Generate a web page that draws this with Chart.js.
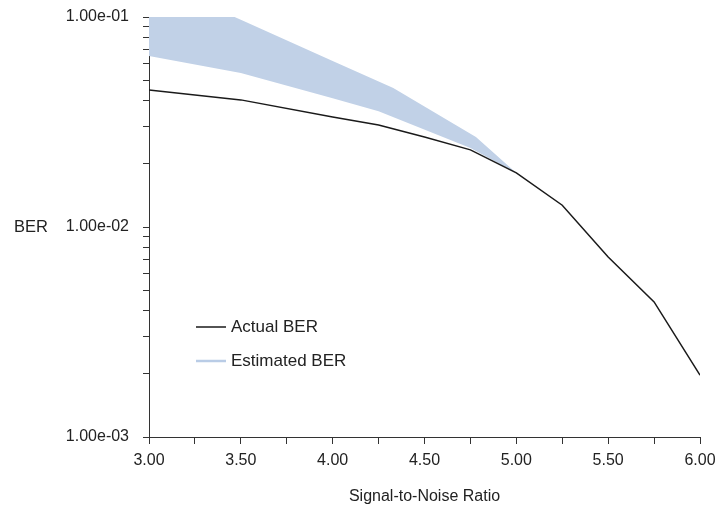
<!DOCTYPE html>
<html>
<head>
<meta charset="utf-8">
<script src="https://cdn.jsdelivr.net/npm/chart.js@4.4.1/dist/chart.umd.min.js"></script>
<style>
  html, body { margin: 0; padding: 0; background: #fff; }
  #wrap { width: 716px; height: 508px; }
</style>
</head>
<body>
<div id="wrap"><canvas id="chartBer" width="716" height="508"></canvas></div>
<script>
// --- Datos ---
const snrActual = [3.0, 3.5, 4.0, 4.25, 4.5, 4.75, 5.0, 5.25, 5.5, 5.75, 6.0];
const berActual = [0.0449, 0.0403, 0.0334, 0.0306, 0.0268, 0.0233, 0.0181, 0.0127, 0.0072, 0.0044, 0.00197];

const snrEstUpper = [3.0, 3.5, 4.0, 4.33, 4.78, 5.0];
const berEstUpper = [0.152, 0.097, 0.0617, 0.0459, 0.0268, 0.0181];

const snrEstLower = [3.0, 3.5, 4.0, 4.25, 4.75, 5.0];
const berEstLower = [0.0652, 0.0541, 0.0410, 0.0356, 0.0238, 0.0181];

const yTicks = [0.001, 0.002, 0.003, 0.004, 0.005, 0.006, 0.007, 0.008, 0.009,
                0.01, 0.02, 0.03, 0.04, 0.05, 0.06, 0.07, 0.08, 0.09, 0.1];

const legendLabels = ['Actual BER', 'Estimated BER'];

function toPoints(xs, ys) {
    return xs.map((x, i) => ({ x: x, y: ys[i] }));
}

function formatExp(v) {
    const exp = Math.round(Math.log10(v));
    const mant = (v / Math.pow(10, exp)).toFixed(2);
    const sign = exp < 0 ? '-' : '+';
    return mant + 'e' + sign + String(Math.abs(exp)).padStart(2, '0');
}

// --- Plugins ---
// etiqueta "BER" horizontal a la izquierda
const berLabel = {
    id: 'berLabel',
    afterDraw(chart) {
        const ctx = chart.ctx;
        ctx.save();
        ctx.font = '16.5px "Liberation Sans", Arial, sans-serif';
        ctx.fillStyle = '#222';
        ctx.textAlign = 'left';
        ctx.textBaseline = 'middle';
        ctx.fillText('BER', 14, chart.scales.y.getPixelForValue(0.01));
        ctx.restore();
    }
};

// leyenda dentro del área del gráfico
const insideLegend = {
    id: 'insideLegend',
    afterDatasetsDraw(chart) {
        const ctx = chart.ctx;
        const area = chart.chartArea;
        const colors = ['#1a1a1a', '#b9cce6'];
        const x0 = area.left + 47;
        ctx.save();
        ctx.font = '17px "Liberation Sans", Arial, sans-serif';
        ctx.textBaseline = 'middle';
        legendLabels.forEach((lbl, i) => {
            const y = area.top + 310 + i * 34;
            ctx.strokeStyle = colors[i];
            ctx.lineWidth = i === 0 ? 1.5 : 2.5;
            ctx.beginPath();
            ctx.moveTo(x0, y);
            ctx.lineTo(x0 + 30, y);
            ctx.stroke();
            ctx.fillStyle = '#222';
            ctx.fillText(lbl, x0 + 35, y);
        });
        ctx.restore();
    }
};

Chart.defaults.font.family = '"Liberation Sans", Arial, sans-serif';
Chart.defaults.font.size = 16;
Chart.defaults.color = '#222';

new Chart(document.getElementById('chartBer'), {
    type: 'line',
    data: {
        datasets: [
            {
                label: legendLabels[0],
                data: toPoints(snrActual, berActual),
                borderColor: '#1a1a1a',
                borderWidth: 1.5,
                pointRadius: 0,
                fill: false
            },
            {
                label: legendLabels[1],
                data: toPoints(snrEstUpper, berEstUpper),
                borderColor: 'rgba(0,0,0,0)',
                borderWidth: 0,
                backgroundColor: '#c1d1e7',
                pointRadius: 0,
                fill: '+1'
            },
            {
                label: 'lower',
                data: toPoints(snrEstLower, berEstLower),
                borderColor: 'rgba(0,0,0,0)',
                borderWidth: 0,
                pointRadius: 0,
                fill: false
            }
        ]
    },
    options: {
        responsive: false,
        animation: false,
        layout: { padding: { left: 0, right: 16, top: 17, bottom: 0 } },
        plugins: {
            legend: { display: false },
            tooltip: { enabled: false }
        },
        scales: {
            x: {
                type: 'linear',
                min: 3,
                max: 6,
                border: { display: true, color: '#333', width: 1 },
                grid: { drawOnChartArea: false, drawTicks: true, tickLength: 7, color: '#333' },
                ticks: {
                    stepSize: 0.25,
                    padding: 7,
                    maxRotation: 0,
                    autoSkip: false,
                    callback: v => (Math.abs(v * 2 - Math.round(v * 2)) < 1e-9 ? v.toFixed(2) : '')
                },
                title: {
                    display: true,
                    text: 'Signal-to-Noise Ratio',
                    font: { size: 16 },
                    padding: { top: 12, bottom: 2 }
                },
                afterFit: scale => {
                    scale.height = 71;
                    scale.paddingLeft = 0;
                    scale.paddingRight = 0;
                }
            },
            y: {
                type: 'logarithmic',
                min: 0.001,
                max: 0.1,
                border: { display: true, color: '#333', width: 1 },
                grid: { drawOnChartArea: false, drawTicks: true, tickLength: 6, color: '#333' },
                afterBuildTicks: scale => {
                    scale.ticks = yTicks.map(v => ({ value: v }));
                },
                ticks: {
                    padding: 14,
                    autoSkip: false,
                    callback: v => {
                        const l = Math.log10(v);
                        return Math.abs(l - Math.round(l)) < 1e-9 ? formatExp(v) : '';
                    }
                },
                afterFit: scale => {
                    scale.width = 149;
                    scale.paddingTop = 0;
                    scale.paddingBottom = 0;
                }
            }
        }
    },
    plugins: [berLabel, insideLegend]
});
</script>
</body>
</html>
